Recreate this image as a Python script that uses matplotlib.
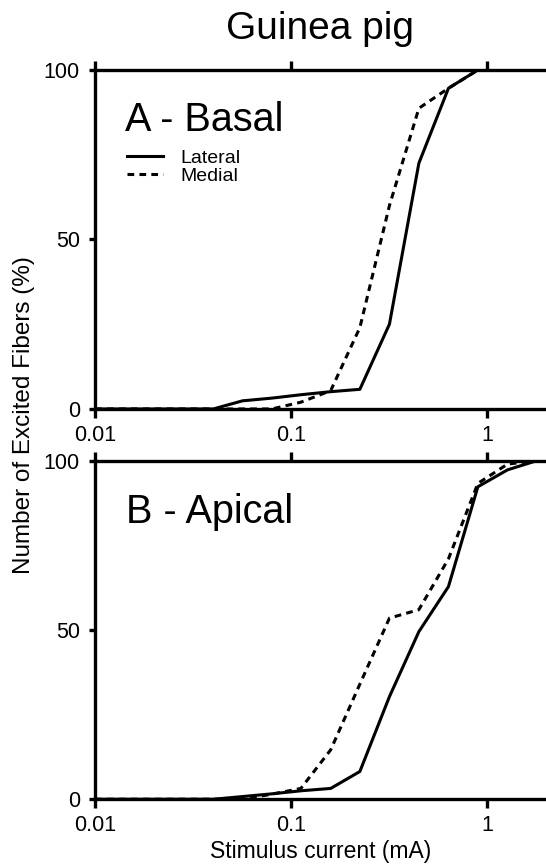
import matplotlib.pyplot as plt
from matplotlib.ticker import NullLocator

plt.rcParams['font.family'] = ['Liberation Sans', 'DejaVu Sans']

# stimulus currents (mA), 3 dB steps
current = [0.01, 0.04, 0.0564, 0.0796, 0.112, 0.159, 0.224, 0.317, 0.448,
           0.634, 0.896, 1.27, 1.79, 2.53]

# A - Basal, % excited fibers
basal_lateral = [0, 0, 2.4, 3.2, 4.2, 5.1, 5.8, 25, 72.5, 94.6, 100, 100, 100, 100]
basal_medial = [0, 0, 0, 0, 2.0, 5.4, 24, 60, 88.7, 94.6, 100, 100, 100, 100]

# B - Apical
apical_lateral = [0, 0, 0.8, 1.6, 2.5, 3.2, 8.2, 30.3, 49.5, 62.8, 92.3, 97.3, 100, 100]
apical_medial = [0, 0, 0, 1.5, 3.2, 14.6, 34, 53.5, 56, 71, 93.3, 99, 100, 100]

xticks = [0.01, 0.1, 1]
xticklabels = ['0.01', '0.1', '1']
yticks = [0, 50, 100]

fig = plt.figure(figsize=(5.46, 8.65), dpi=100)
axA = fig.add_axes([0.1744, 0.5272, 0.826, 0.3919])
axB = fig.add_axes([0.1744, 0.0760, 0.826, 0.3914])

lw = 2.2
dash = (0, (2.2, 1.7))

axA.plot(current, basal_lateral, color='black', lw=lw, label='Lateral')
axA.plot(current, basal_medial, color='black', lw=lw, ls=dash, label='Medial')
axB.plot(current, apical_lateral, color='black', lw=lw)
axB.plot(current, apical_medial, color='black', lw=lw, ls=dash)

for ax in (axA, axB):
    ax.set_xscale('log')
    ax.set_xlim(0.01, 2)
    ax.set_ylim(0, 100)
    ax.spines['right'].set_visible(False)
    for s in ['top', 'bottom', 'left']:
        ax.spines[s].set_linewidth(2.4)
    ax.set_xticks(xticks)
    ax.set_xticklabels(xticklabels)
    ax.xaxis.set_minor_locator(NullLocator())
    ax.set_yticks(yticks)
    ax.tick_params(axis='x', which='major', top=True, direction='out',
                   length=6.5, width=2.4, labelsize=15.5, pad=5)
    ax.tick_params(axis='y', direction='out', length=4, width=2.4,
                   labelsize=15.5, pad=7)

axA.text(0.066, 0.821, 'A - Basal', transform=axA.transAxes, fontsize=28.5,
         va='baseline')
axB.text(0.068, 0.816, 'B - Apical', transform=axB.transAxes, fontsize=28.5,
         va='baseline')

axA.legend(loc='upper left', bbox_to_anchor=(0.0705, 0.767), frameon=False,
           fontsize=14, handlelength=1.85, handletextpad=0.87,
           labelspacing=0.05, borderpad=0, borderaxespad=0)

axB.set_xlabel('Stimulus current (mA)', fontsize=16.5, labelpad=3)
fig.text(24.5 / 546, 1 - 415 / 865, 'Number of Excited Fibers (%)',
         rotation=90, ha='center', va='center', fontsize=17.5)
fig.text(320 / 546, 1 - 39 / 865, 'Guinea pig', ha='center', va='baseline',
         fontsize=28)

fig.savefig('out.png', dpi=100)
